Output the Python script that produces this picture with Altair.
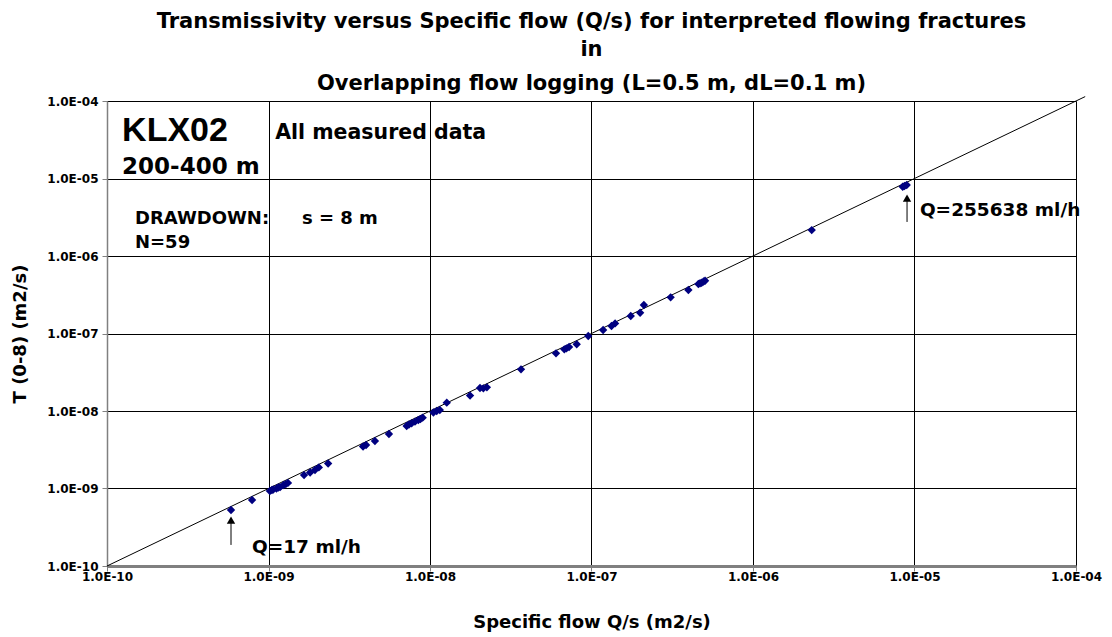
import altair as alt
import pandas as pd

# Specific flow Q/s (m2/s) and transmissivity T (m2/s)
q_values = [5.86e-10, 7.91e-10, 1.02e-9, 1.05e-9, 1.07e-9, 1.12e-9, 1.15e-9, 1.18e-9, 1.24e-9, 1.28e-9,
            1.32e-9, 1.66e-9, 1.81e-9, 1.94e-9, 2.05e-9, 2.34e-9, 3.85e-9, 4.02e-9, 4.56e-9, 5.57e-9,
            7.17e-9, 7.41e-9, 7.70e-9, 8.07e-9, 8.47e-9, 8.73e-9, 9.01e-9, 1.05e-8, 1.10e-8, 1.15e-8,
            1.27e-8, 1.77e-8, 2.04e-8, 2.14e-8, 2.25e-8, 3.66e-8, 6.03e-8, 6.79e-8, 7.00e-8, 7.26e-8,
            8.10e-8, 9.55e-8, 1.18e-7, 1.33e-7, 1.40e-7, 1.75e-7, 2.00e-7, 2.11e-7, 3.09e-7, 3.98e-7,
            4.59e-7, 4.70e-7, 4.81e-7, 4.94e-7, 5.05e-7, 2.31e-6, 8.45e-6, 8.67e-6, 8.95e-6]
t_values = [5.28e-10, 7.11e-10, 9.29e-10, 9.57e-10, 9.70e-10, 1.00e-9, 1.03e-9, 1.04e-9, 1.11e-9, 1.14e-9,
            1.18e-9, 1.49e-9, 1.61e-9, 1.73e-9, 1.87e-9, 2.10e-9, 3.48e-9, 3.64e-9, 4.10e-9, 5.05e-9,
            6.40e-9, 6.70e-9, 6.94e-9, 7.28e-9, 7.65e-9, 7.88e-9, 8.20e-9, 9.57e-9, 1.00e-8, 1.03e-8,
            1.28e-8, 1.58e-8, 1.98e-8, 1.96e-8, 2.02e-8, 3.45e-8, 5.55e-8, 6.25e-8, 6.44e-8, 6.70e-8,
            7.26e-8, 9.29e-8, 1.11e-7, 1.25e-7, 1.35e-7, 1.68e-7, 1.85e-7, 2.33e-7, 2.93e-7, 3.64e-7,
            4.35e-7, 4.45e-7, 4.52e-7, 4.69e-7, 4.80e-7, 2.16e-6, 7.83e-6, 8.00e-6, 8.24e-6]

tick_values = [1e-10, 1e-9, 1e-8, 1e-7, 1e-6, 1e-5, 1e-4]
line_q = [1e-10, 1.14e-4]

# annotations (text, q, t)
big_labels = [("KLX02", 1.24e-10, 4.1e-5)]
mid_labels = [("200-400 m", 1.24e-10, 1.41e-5)]
head_labels = [("All measured data", 1.10e-9, 3.86e-5)]
info_labels = [("DRAWDOWN:", 1.49e-10, 3.0e-6),
               ("s = 8 m", 1.61e-9, 3.0e-6),
               ("N=59", 1.49e-10, 1.47e-6)]
q_labels = [("Q=17 ml/h", 7.9e-10, 1.76e-10),
            ("Q=255638 ml/h", 1.08e-5, 3.93e-6)]
arrows_q = [5.86e-10, 8.99e-6]
arrows_low = [1.87e-10, 2.75e-6]
arrows_high = [3.9e-10, 5.6e-6]

FONT = "DejaVu Sans"
FONT2 = "Liberation Sans"
label_expr = "'1.0E-' + (-round(log(datum.value)/LN10) < 10 ? '0' : '') + (-round(log(datum.value)/LN10))"

df = pd.DataFrame({"q": q_values, "t": t_values})
line_df = pd.DataFrame({"q": line_q, "t": line_q})
arrow_df = pd.DataFrame({"q": arrows_q, "lo": arrows_low, "hi": arrows_high})

xscale = alt.Scale(type="log", domain=[1e-10, 1e-4], nice=False)
yscale = alt.Scale(type="log", domain=[1e-10, 1e-4], nice=False)

x_axis = alt.Axis(values=tick_values, labelExpr=label_expr, title="Specific flow Q/s (m2/s)",
                  grid=True, gridColor="#000000", gridWidth=1, gridOpacity=1,
                  domainColor="#808080", domainWidth=3, tickColor="#808080", tickSize=5,
                  labelFont=FONT, labelFontWeight="bold", labelFontSize=12, labelColor="#000",
                  labelPadding=0, titleFont=FONT, titleFontSize=18, titleFontWeight="bold",
                  titleColor="#000", titlePadding=31, labelFlush=False)
y_axis = alt.Axis(values=tick_values, labelExpr=label_expr, title="T (0-8)  (m2/s)",
                  grid=True, gridColor="#000000", gridWidth=1, gridOpacity=1,
                  domainColor="#808080", domainWidth=1.5, tickColor="#808080", tickSize=5,
                  labelFont=FONT, labelFontWeight="bold", labelFontSize=12, labelColor="#000",
                  labelPadding=4, titleFont=FONT, titleFontSize=18, titleFontWeight="bold",
                  titleColor="#000", titlePadding=17, labelFlush=False)

base = alt.Chart(df)

points = base.mark_point(shape="diamond", filled=True, color="#000080", size=70, opacity=1).encode(
    x=alt.X("q:Q", scale=xscale, axis=x_axis),
    y=alt.Y("t:Q", scale=yscale, axis=y_axis),
)

line = alt.Chart(line_df).mark_line(color="#000000", strokeWidth=1, clip=False).encode(
    x=alt.X("q:Q", scale=xscale), y=alt.Y("t:Q", scale=yscale))

def text_layer(items, size, font=FONT):
    d = pd.DataFrame(items, columns=["label", "q", "t"])
    return alt.Chart(d).mark_text(align="left", baseline="middle", font=font, fontWeight="bold",
                                  fontSize=size, color="#000").encode(
        x=alt.X("q:Q", scale=xscale), y=alt.Y("t:Q", scale=yscale), text="label:N")

shafts = alt.Chart(arrow_df).mark_rule(color="#000000", strokeWidth=1).encode(
    x=alt.X("q:Q", scale=xscale), y=alt.Y("lo:Q", scale=yscale), y2="hi:Q")
heads = alt.Chart(arrow_df).mark_point(shape="triangle-up", filled=True, color="#000000",
                                       size=70, opacity=1).encode(
    x=alt.X("q:Q", scale=xscale), y=alt.Y("hi:Q", scale=yscale))

chart = alt.layer(
    line, points, shafts, heads,
    text_layer(big_labels, 34, FONT2), text_layer(mid_labels, 23),
    text_layer(head_labels, 20.5), text_layer(info_labels, 18), text_layer(q_labels, 18.5),
).properties(
    width=969, height=465,
    title=alt.TitleParams(
        text=["Transmissivity versus Specific flow (Q/s) for interpreted flowing fractures", "in"],
        subtitle="Overlapping flow logging (L=0.5 m, dL=0.1 m)",
        font=FONT, fontSize=21, fontWeight="bold", color="#000", lineHeight=28,
        subtitleFont=FONT, subtitleFontSize=21, subtitleFontWeight="bold", subtitleColor="#000",
        subtitlePadding=13, anchor="middle", offset=1),
    padding={"left": 107, "top": 101, "right": 36, "bottom": 71},
    autosize=alt.AutoSizeParams(type="none"),
).configure_view(stroke="#808080", strokeWidth=1.5).configure(background="#ffffff")

chart.save("out.html", embed_options={"renderer": "svg", "actions": False})
